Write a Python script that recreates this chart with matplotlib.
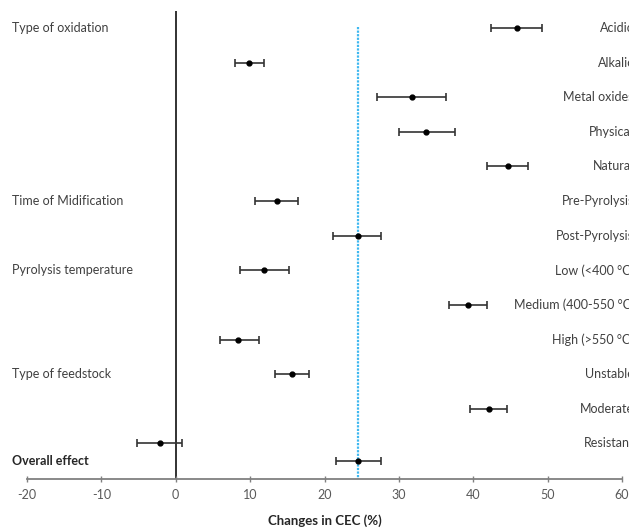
import matplotlib
matplotlib.use("Agg")
import matplotlib.pyplot as plt

categories = ["Acidic", "Alkalic", "Metal oxides", "Physical", "Natural",
              "Pre-Pyrolysis", "Post-Pyrolysis", "Low (<400 °C)",
              "Medium (400-550 °C)", "High (>550 °C)", "Unstable",
              "Moderate", "Resistant"]
means = [45.9, 9.9, 31.8, 33.7, 44.7, 13.6, 24.5, 11.9, 39.3, 8.4, 15.6, 42.1, -2.1]
lower = [42.4, 8.0, 27.1, 30.0, 41.9, 10.7, 21.1, 8.7, 36.8, 5.9, 13.3, 39.6, -5.2]
upper = [49.2, 11.9, 36.3, 37.6, 47.4, 16.4, 27.6, 15.2, 41.9, 11.2, 17.9, 44.6, 0.9]

point_rows = [0, 1, 2, 3, 4, 5, 6, 7, 8, 9, 10, 11, 12]

groups = ["Type of oxidation", "Time of Midification", "Pyrolysis temperature", "Type of feedstock"]
group_rows = [0, 5, 7, 10]

overall_label = "Overall effect"
overall_mean = 24.5
overall_lower = 21.5
overall_upper = 27.6
overall_row = 12.5

xticks = [-20, -10, 0, 10, 20, 30, 40, 50, 60]

plt.rcParams['font.family'] = ['Lato', 'DejaVu Sans']
txt = '#404040'

fig = plt.figure(figsize=(6.29, 5.30), dpi=100)
ax = fig.add_axes([0.0429, 0.0962, 0.9460, 0.8830])

# reference lines
ax.axvline(0, color='#222222', lw=1.3, zorder=1)
ax.plot([overall_mean, overall_mean], [-0.03, 13.03], color='#3fb8f0', lw=1.6,
        ls=(0, (1, 0.6)), zorder=1)

xerr_lo = [m - l for m, l in zip(means, lower)]
xerr_hi = [u - m for m, u in zip(means, upper)]
ax.errorbar(means, point_rows, xerr=[xerr_lo, xerr_hi], fmt='o', color='black',
            ecolor='#333333', elinewidth=1.2, capsize=3, capthick=1.2, ms=3.5, zorder=3)
ax.errorbar([overall_mean], [overall_row],
            xerr=[[overall_mean - overall_lower], [overall_upper - overall_mean]],
            fmt='o', color='black', ecolor='#333333', elinewidth=1.2, capsize=3,
            capthick=1.2, ms=3.5, zorder=3)

ax.set_xlim(-20, 60)
ax.set_ylim(13.03, -0.49)
ax.set_xticks(xticks)
ax.set_xticklabels([str(t) for t in xticks], color='#595959', fontsize=9)
ax.tick_params(axis='x', direction='inout', length=5, color='#808080', width=1, pad=5)
ax.set_yticks([])
for s in ['left', 'top', 'right']:
    ax.spines[s].set_visible(False)
ax.spines['bottom'].set_color('#808080')
ax.spines['bottom'].set_linewidth(1.3)
ax.set_xlabel("Changes in CEC (%)", fontsize=9.5, fontweight='bold', color='#262626', labelpad=9)

# right-side category labels (clipped at figure edge, as in the reference)
for cat, r in zip(categories, point_rows):
    ax.annotate(cat, xy=(634 / 629, r), xycoords=('figure fraction', 'data'),
                ha='right', va='center', fontsize=9, color=txt, annotation_clip=False)

# left group labels
for g, r in zip(groups, group_rows):
    ax.annotate(g, xy=(12 / 629, r), xycoords=('figure fraction', 'data'),
                ha='left', va='center', fontsize=9, color=txt, annotation_clip=False)
ax.annotate(overall_label, xy=(12 / 629, overall_row), xycoords=('figure fraction', 'data'),
            ha='left', va='center', fontsize=9, fontweight='bold', color='#262626',
            annotation_clip=False)

fig.savefig("out.png", dpi=100)
